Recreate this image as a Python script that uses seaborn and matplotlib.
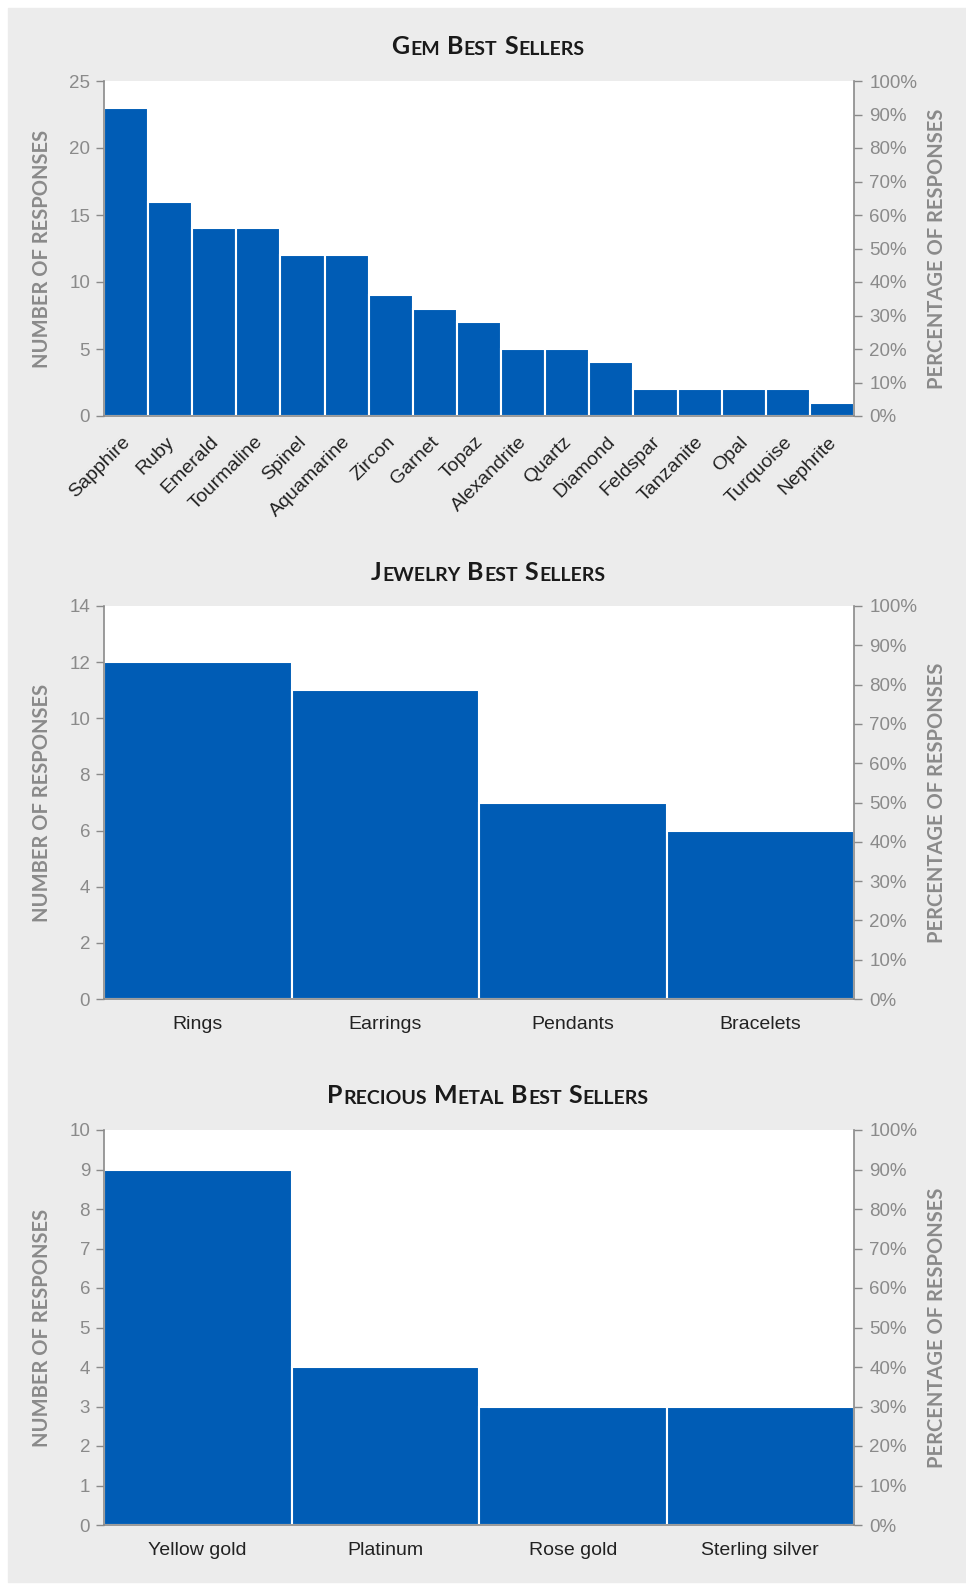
import numpy as np
import matplotlib.pyplot as plt
import seaborn as sns
from matplotlib.patches import Rectangle
from matplotlib.ticker import PercentFormatter
from matplotlib.transforms import ScaledTranslation

# data
gems = ["Sapphire", "Ruby", "Emerald", "Tourmaline", "Spinel", "Aquamarine",
        "Zircon", "Garnet", "Topaz", "Alexandrite", "Quartz", "Diamond",
        "Feldspar", "Tanzanite", "Opal", "Turquoise", "Nephrite"]
gem_counts = [23, 16, 14, 14, 12, 12, 9, 8, 7, 5, 5, 4, 2, 2, 2, 2, 1]

jewelry = ["Rings", "Earrings", "Pendants", "Bracelets"]
jewelry_counts = [12, 11, 7, 6]

metals = ["Yellow gold", "Platinum", "Rose gold", "Sterling silver"]
metal_counts = [9, 4, 3, 3]

BLUE = "#005cb5"
PANEL = "#ececec"
AXGRAY = "#8a8a8a"
W, H = 966, 1585

sns.set_style("ticks")
plt.rcParams["font.family"] = ["Liberation Sans", "DejaVu Sans"]

fig = plt.figure(figsize=(W / 100, H / 100), dpi=100, facecolor="white")
fig.patches.append(Rectangle((8 / W, 1 - 1582 / H), (W - 8) / W, (1582 - 8) / H,
                             transform=fig.transFigure, color=PANEL, zorder=-10))


def px_rect(left, top, right, bottom):
    return [left / W, 1 - bottom / H, (right - left) / W, (bottom - top) / H]


def smallcaps_title(ax, text, y_px, big=18, small=14):
    kw = dict(fontfamily="Lato", fontweight="bold", color="#1a1a1a")
    pieces = []
    for i, word in enumerate(text.split()):
        pieces.append((word[0], big, 5 if i else 0))
        if len(word) > 1:
            pieces.append((word[1:].upper(), small, 0.3))
    first = fig.text(0, 1 - y_px / H, pieces[0][0], fontsize=pieces[0][1],
                     va="baseline", ha="left", **kw)
    prev = first
    texts = [first]
    for s, size, gap in pieces[1:]:
        t = ax.annotate(s, xy=(1, 0), xycoords=prev, xytext=(gap, 0),
                        textcoords="offset points", fontsize=size,
                        va="bottom", ha="left", annotation_clip=False, **kw)
        texts.append(t)
        prev = t
    return texts


def panel(rect, cats, counts, ymax, ystep, title, title_y, rotate=False):
    ax = fig.add_axes(rect)
    ax.set_facecolor("white")
    sns.barplot(x=cats, y=counts, color=BLUE, saturation=1, width=1,
                edgecolor="white", linewidth=1.5, ax=ax)
    ax.set_xlim(-0.5, len(cats) - 0.5)
    ax.set_ylim(0, ymax)
    ax.set_yticks(np.arange(0, ymax + 0.01, ystep))
    ax.spines["top"].set_visible(False)
    ax.spines["right"].set_visible(False)
    for s in ["left", "bottom"]:
        ax.spines[s].set_color(AXGRAY)
        ax.spines[s].set_linewidth(1.2)
    ax.tick_params(axis="y", length=6, width=1, color=AXGRAY, labelcolor=AXGRAY,
                   labelsize=13.5, pad=4)
    ax.tick_params(axis="x", length=0, labelsize=14, labelcolor="#222222",
                   pad=12.5 if rotate else 12)
    if rotate:
        shift = ScaledTranslation(-0.045, 0, fig.dpi_scale_trans)
        for lab in ax.get_xticklabels():
            lab.set_rotation(45)
            lab.set_ha("right")
            lab.set_rotation_mode("anchor")
            lab.set_transform(lab.get_transform() + shift)
    ax.set_xlabel("")
    ax.set_ylabel("NUMBER OF RESPONSES", fontfamily="Lato", fontweight="bold",
                  fontsize=14.5, color=AXGRAY, va="center")
    ax.yaxis.set_label_coords(-0.082, 0.5)

    ax2 = ax.twinx()
    ax2.set_ylim(0, 100)
    ax2.set_yticks(np.arange(0, 101, 10))
    ax2.yaxis.set_major_formatter(PercentFormatter(decimals=0))
    for s in ["top", "left", "bottom"]:
        ax2.spines[s].set_visible(False)
    ax2.spines["right"].set_color(AXGRAY)
    ax2.spines["right"].set_linewidth(1.2)
    ax2.tick_params(axis="y", length=6, width=1, color=AXGRAY, labelcolor=AXGRAY,
                    labelsize=13.5, pad=5)
    ax2.set_ylabel("PERCENTAGE OF RESPONSES", fontfamily="Lato",
                   fontweight="bold", fontsize=14.5, color=AXGRAY,
                   rotation=90, va="center")
    ax2.yaxis.set_label_coords(1.11, 0.5)

    return smallcaps_title(ax, title, title_y)


titles = []
titles.append(panel(px_rect(104, 81, 854, 416), gems, gem_counts, 25, 5,
                    "Gem Best Sellers", 54, rotate=True))
titles.append(panel(px_rect(104, 606, 854, 999), jewelry, jewelry_counts, 14, 2,
                    "Jewelry Best Sellers", 580))
titles.append(panel(px_rect(104, 1130, 854, 1525), metals, metal_counts, 10, 1,
                    "Precious Metal Best Sellers", 1103))

# center the small-caps titles
fig.canvas.draw()
r = fig.canvas.get_renderer()
for texts in titles:
    x0 = texts[0].get_window_extent(r).x0
    x1 = texts[-1].get_window_extent(r).x1
    shift = 488 - (x0 + x1) / 2
    x, y = texts[0].get_position()
    texts[0].set_position((x + shift / W, y))

fig.savefig("out.png", dpi=100, facecolor=fig.get_facecolor())
